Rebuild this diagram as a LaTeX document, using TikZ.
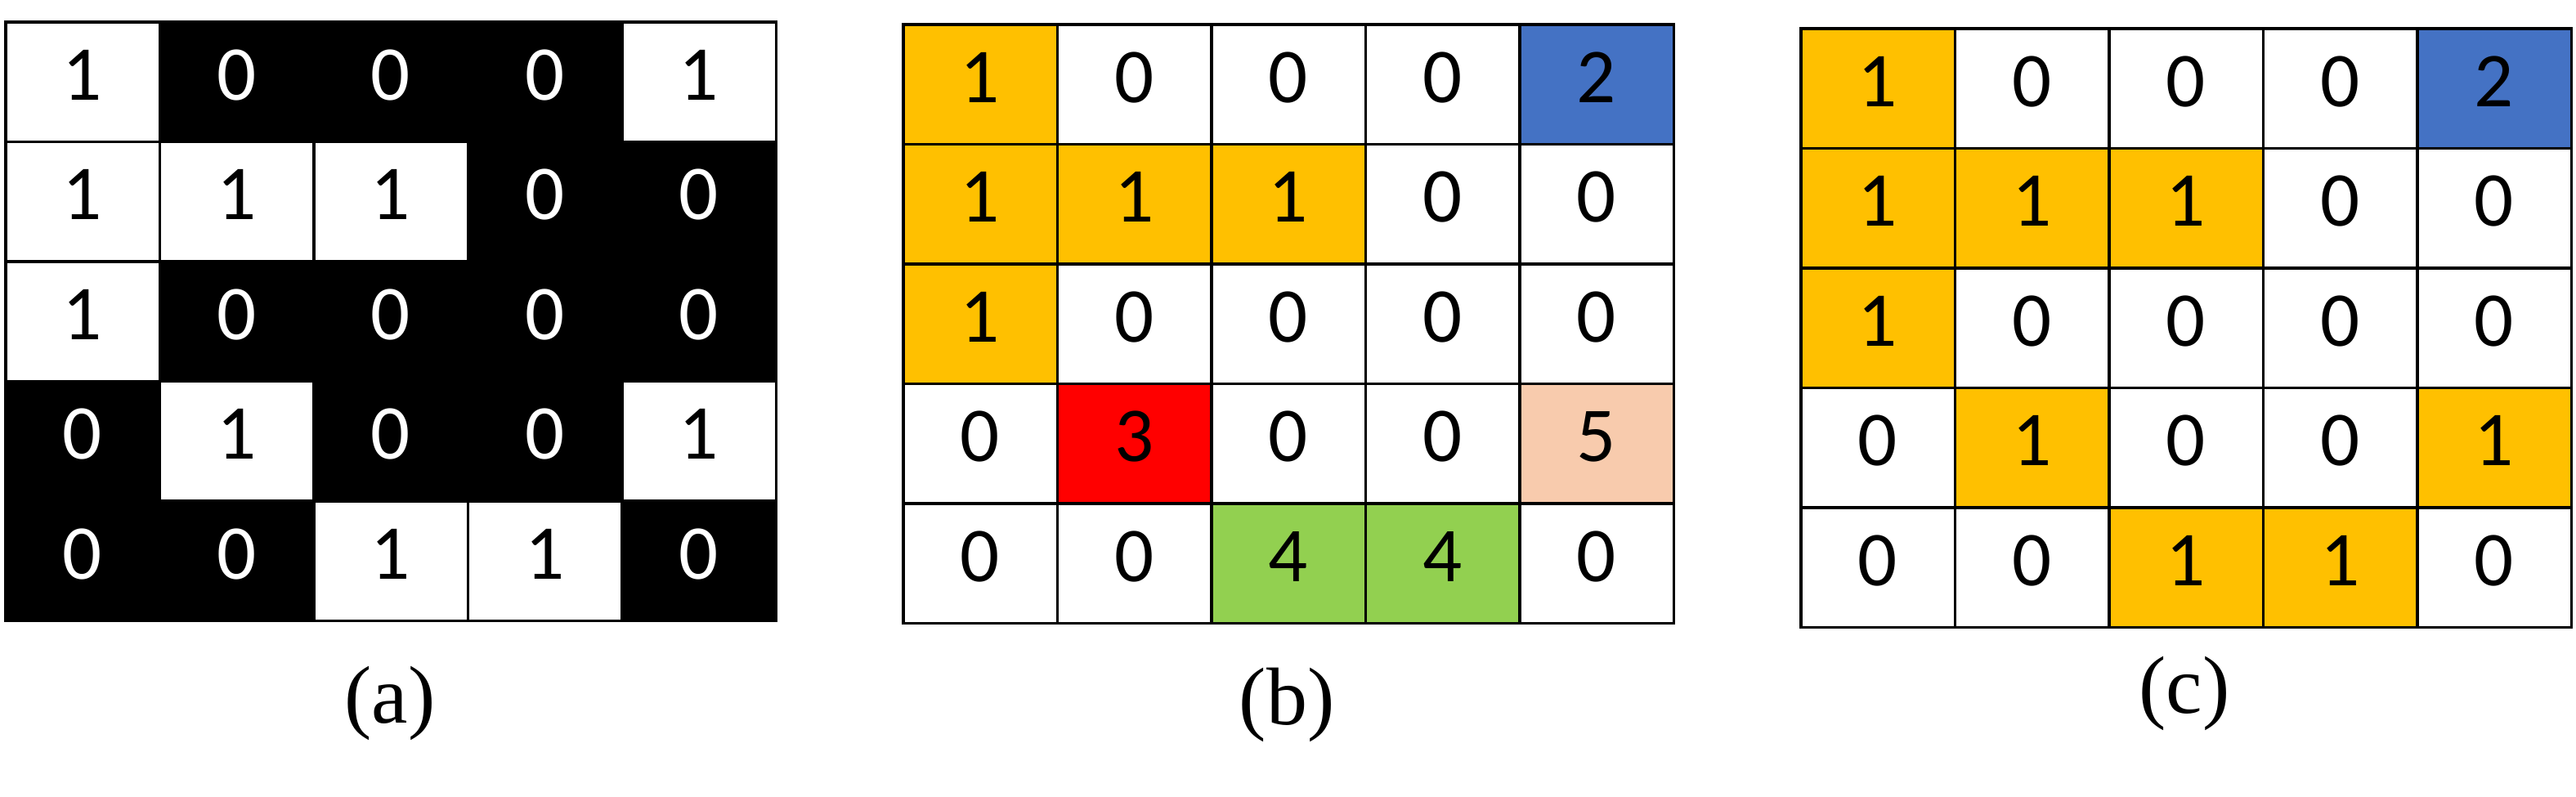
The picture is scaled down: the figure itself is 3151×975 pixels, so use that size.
\documentclass[tikz,border=0pt]{standalone}
\usepackage{fontspec}
\newfontfamily\cellfont{Carlito}
\newfontfamily\capfont{Liberation Serif}
\definecolor{org}{HTML}{FFC000}
\definecolor{blu}{HTML}{4472C4}
\definecolor{rd}{HTML}{FF0000}
\definecolor{grn}{HTML}{92D050}
\definecolor{pch}{HTML}{F8CBAD}
\tikzset{
  cellbox/.style={draw=black, line width=0.875pt, minimum width=47.125pt,
    minimum height=36.625pt, inner sep=0pt, text height=15pt, text depth=4pt,
    font=\cellfont\fontsize{23.75}{28}\selectfont, anchor=north west},
  caption/.style={font=\capfont\fontsize{25}{30}\selectfont, inner sep=0pt}
}
% #1 prefix, #2 left, #3 top, #4 list value/fill/textcolor
\newcommand\drawmygrid[4]{%
  \foreach \v/\f/\t [count=\k from 0] in {#4} {
    \pgfmathtruncatemacro\rr{div(\k,5)}
    \pgfmathtruncatemacro\cc{mod(\k,5)}
    \pgfmathsetmacro\xx{#2+188.5*\cc}
    \pgfmathsetmacro\yy{#3+146.5*\rr}
    \node[cellbox, fill=\f, text=\t] (#1-\rr-\cc) at (\xx,\yy) {\v};
  }}
\begin{document}
\begin{tikzpicture}[x=0.25pt, y=-0.25pt]
\useasboundingbox[fill=white] (0,0) rectangle (3151,975);
\drawmygrid{a}{5}{25}{1/white/black, 0/black/white, 0/black/white, 0/black/white, 1/white/black,
 1/white/black, 1/white/black, 1/white/black, 0/black/white, 0/black/white,
 1/white/black, 0/black/white, 0/black/white, 0/black/white, 0/black/white,
 0/black/white, 1/white/black, 0/black/white, 0/black/white, 1/white/black,
 0/black/white, 0/black/white, 1/white/black, 1/white/black, 0/black/white}
\drawmygrid{b}{1103}{28}{1/org/black, 0/white/black, 0/white/black, 0/white/black, 2/blu/black,
 1/org/black, 1/org/black, 1/org/black, 0/white/black, 0/white/black,
 1/org/black, 0/white/black, 0/white/black, 0/white/black, 0/white/black,
 0/white/black, 3/rd/black, 0/white/black, 0/white/black, 5/pch/black,
 0/white/black, 0/white/black, 4/grn/black, 4/grn/black, 0/white/black}
\drawmygrid{c}{2201}{33}{1/org/black, 0/white/black, 0/white/black, 0/white/black, 2/blu/black,
 1/org/black, 1/org/black, 1/org/black, 0/white/black, 0/white/black,
 1/org/black, 0/white/black, 0/white/black, 0/white/black, 0/white/black,
 0/white/black, 1/org/black, 0/white/black, 0/white/black, 1/org/black,
 0/white/black, 0/white/black, 1/org/black, 1/org/black, 0/white/black}
\node[caption] (capa) at (477,860) {(a)};
\node[caption] (capb) at (1574,862) {(b)};
\node[caption] (capc) at (2672,848) {(c)};
\end{tikzpicture}
\end{document}
